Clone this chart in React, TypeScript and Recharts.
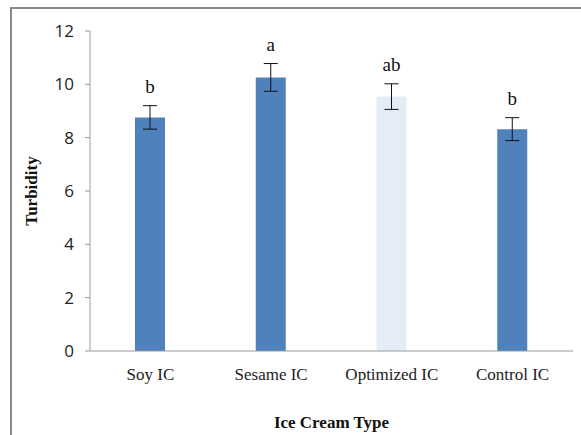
import { BarChart, Bar, XAxis, YAxis, ErrorBar, Cell, LabelList } from 'recharts';

// Turbidity by ice cream type
const iceCreamTypes = ['Soy IC', 'Sesame IC', 'Optimized IC', 'Control IC'];
const turbidity = [8.76, 10.26, 9.54, 8.32];
const turbidityErr = [0.44, 0.52, 0.48, 0.43];
const groupLetters = ['b', 'a', 'ab', 'b'];
const yTicks = [0, 2, 4, 6, 8, 10, 12];

const barColors = ['#4F81BD', '#4F81BD', '#E6ECF7', '#4F81BD'];

const data = iceCreamTypes.map((type, i) => ({
    type,
    value: turbidity[i],
    err: turbidityErr[i],
    letter: groupLetters[i],
}));

const serif = '"Liberation Serif", "Times New Roman", serif';
const sans = '"Open Sans", "Liberation Sans", sans-serif';

// letter sits above the top of the error bar
const LetterLabel = (props: any) => {
    const { x, y, width, height, index } = props;
    const d = data[index];
    const pxPerUnit = height / d.value;
    const errTop = y - d.err * pxPerUnit;
    return (
        <text x={x + width / 2} y={errTop - 13} textAnchor="middle" fontFamily={serif} fontSize={19} fill="#111">
            {d.letter}
        </text>
    );
};

export default function App() {
    return (
        <div style={{ position: 'absolute', left: 0, top: 0, width: 581, height: 435, overflow: 'hidden', background: '#fff' }}>
            <div style={{ position: 'absolute', left: 10, top: 7, width: 700, height: 600, borderTop: '2px solid #8a8a8a', borderLeft: '2px solid #8a8a8a' }} />
            <div style={{ position: 'absolute', left: 0, top: 0 }}>
                <BarChart width={581} height={435} data={data} margin={{ top: 31, right: 8, left: 0, bottom: 54 }} barSize={30}>
                    <XAxis
                        dataKey="type"
                        height={30}
                        axisLine={{ stroke: '#9a9a9a' }}
                        tickLine={false}
                        tick={{ fontFamily: serif, fontSize: 17, fill: '#222' }}
                        tickMargin={11}
                        label={{ value: 'Ice Cream Type', position: 'insideBottom', offset: -47, fontFamily: serif, fontSize: 17, fontWeight: 'bold', fill: '#111' }}
                    />
                    <YAxis
                        width={90}
                        domain={[0, 12]}
                        ticks={yTicks}
                        interval={0}
                        axisLine={{ stroke: '#9a9a9a' }}
                        tickLine={{ stroke: '#9a9a9a' }}
                        tickSize={5}
                        tickMargin={11}
                        tick={{ fontFamily: sans, fontSize: 17, fill: '#222' }}
                        label={{ value: 'Turbidity', angle: -90, position: 'insideLeft', textAnchor: 'middle', dx: 26, dy: 0, fontFamily: serif, fontSize: 17, fontWeight: 'bold', fill: '#111' }}
                    />
                    <Bar dataKey="value" isAnimationActive={false}>
                        {data.map((d, i) => (
                            <Cell key={d.type} fill={barColors[i]} />
                        ))}
                        <ErrorBar dataKey="err" width={7} stroke="#111" strokeWidth={1} isAnimationActive={false} />
                        <LabelList dataKey="letter" content={LetterLabel} />
                    </Bar>
                </BarChart>
            </div>
        </div>
    );
}
